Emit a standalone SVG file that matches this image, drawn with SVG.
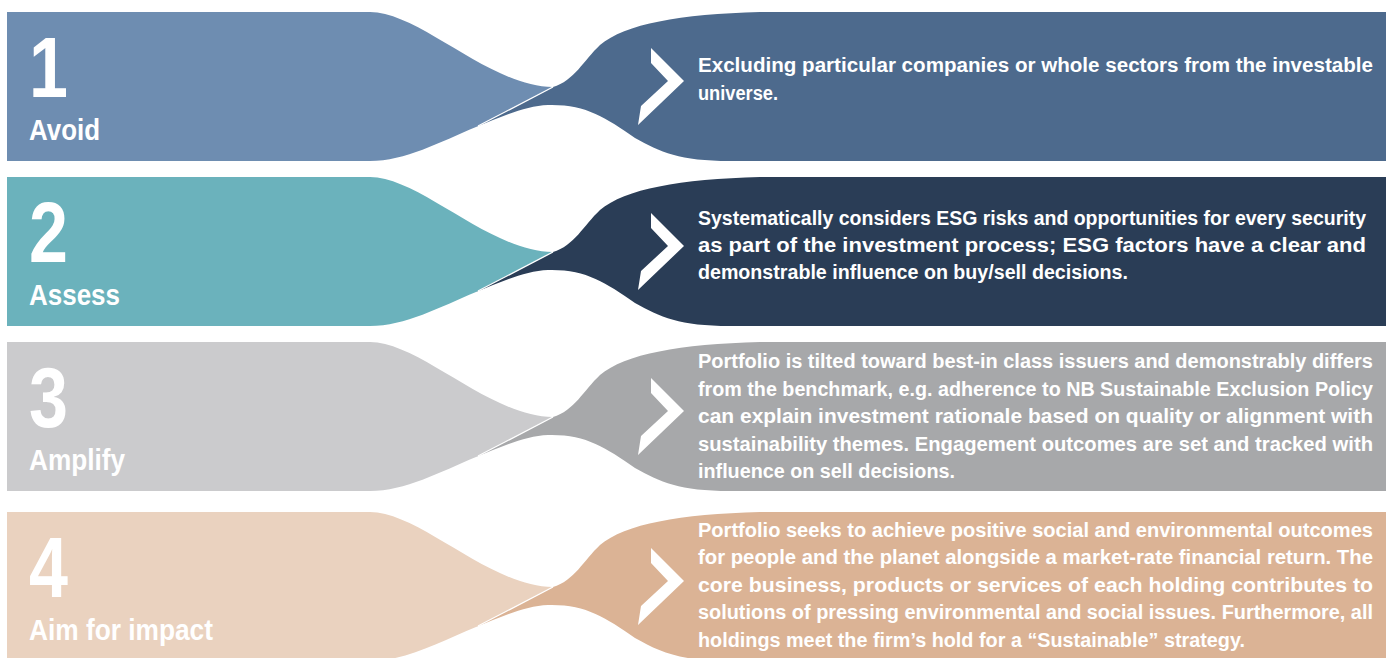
<svg xmlns="http://www.w3.org/2000/svg" xmlns:xlink="http://www.w3.org/1999/xlink" width="1388" height="658" viewBox="0 0 1388 658">
  <style>
    /* condensed look: regular sans stretched vertically inside scaled groups */
    .txt { font-family: "Liberation Sans", Arial, sans-serif; font-weight: bold; fill: #ffffff; }
    .num { font-size: 70px; }
    .lbl { font-size: 23.6px; }
    .desc { font-size: 19.6px; }
    .seam { stroke: #ffffff; stroke-width: 1.3; fill: none; }
    .chev { fill: #ffffff; }
  </style>
  <defs>
    <!-- left tab: flat box that narrows into a pointed tail -->
    <path id="lhs" d="M7,0 H370 C420,0 490,75 553,75 L476,115 C440,130 405,149 370,149 H7 Z"/>
    <!-- right tab: pointed tail that flares into the text panel -->
    <path id="rhs" d="M476,115 L553,75 C574,69 584,48 600,33 C625,12 680,2 760,0 H1386 V149 H730 C680,149 660,140 635,126 C605,105 585,92 548,93 C525,94 500,105 476,115 Z"/>
    <polygon id="chevron" points="651,36 684,69 638,113 641,94 668,69 651,51"/>
    <line id="seamline" x1="478" y1="114" x2="553" y2="75"/>
  </defs>

  <!-- 1: Avoid -->
  <g id="step-avoid" transform="translate(0,12)">
    <use xlink:href="#lhs" href="#lhs" fill="#6E8DB1"/>
    <use xlink:href="#rhs" href="#rhs" fill="#4D6A8D"/>
    <use xlink:href="#seamline" href="#seamline" class="seam"/>
    <use xlink:href="#chevron" href="#chevron" class="chev"/>
    <g class="txt" transform="scale(1 1.23)">
      <text class="num" x="29" y="69.1">1</text>
      <text class="lbl" x="29" y="104.07" textLength="71" lengthAdjust="spacingAndGlyphs">Avoid</text>
    </g>
    <g class="txt" transform="scale(1 1.07)">
      <text class="desc" x="698" y="56.07" textLength="675" lengthAdjust="spacingAndGlyphs">Excluding particular companies or whole sectors from the investable</text>
      <text class="desc" x="698" y="82.24" textLength="80" lengthAdjust="spacingAndGlyphs">universe.</text>
    </g>
  </g>

  <!-- 2: Assess -->
  <g id="step-assess" transform="translate(0,177)">
    <use xlink:href="#lhs" href="#lhs" fill="#6BB2BC"/>
    <use xlink:href="#rhs" href="#rhs" fill="#2A3D56"/>
    <use xlink:href="#seamline" href="#seamline" class="seam"/>
    <use xlink:href="#chevron" href="#chevron" class="chev"/>
    <g class="txt" transform="scale(1 1.23)">
      <text class="num" x="29" y="69.1">2</text>
      <text class="lbl" x="29" y="104.07" textLength="91" lengthAdjust="spacingAndGlyphs">Assess</text>
    </g>
    <g class="txt" transform="scale(1 1.07)">
      <text class="desc" x="698" y="44.86" textLength="668" lengthAdjust="spacingAndGlyphs">Systematically considers ESG risks and opportunities for every security</text>
      <text class="desc" x="698" y="70.09" textLength="668" lengthAdjust="spacingAndGlyphs">as part of the investment process; ESG factors have a clear and</text>
      <text class="desc" x="698" y="95.33" textLength="430" lengthAdjust="spacingAndGlyphs">demonstrable influence on buy/sell decisions.</text>
    </g>
  </g>

  <!-- 3: Amplify -->
  <g id="step-amplify" transform="translate(0,342)">
    <use xlink:href="#lhs" href="#lhs" fill="#CBCBCD"/>
    <use xlink:href="#rhs" href="#rhs" fill="#A7A8AA"/>
    <use xlink:href="#seamline" href="#seamline" class="seam"/>
    <use xlink:href="#chevron" href="#chevron" class="chev"/>
    <g class="txt" transform="scale(1 1.23)">
      <text class="num" x="29" y="69.1">3</text>
      <text class="lbl" x="29" y="104.07" textLength="96" lengthAdjust="spacingAndGlyphs">Amplify</text>
    </g>
    <g class="txt" transform="scale(1 1.07)">
      <text class="desc" x="698" y="24.30" textLength="675" lengthAdjust="spacingAndGlyphs">Portfolio is tilted toward best-in class issuers and demonstrably differs</text>
      <text class="desc" x="698" y="50.47" textLength="675" lengthAdjust="spacingAndGlyphs">from the benchmark, e.g. adherence to NB Sustainable Exclusion Policy</text>
      <text class="desc" x="698" y="75.70" textLength="675" lengthAdjust="spacingAndGlyphs">can explain investment rationale based on quality or alignment with</text>
      <text class="desc" x="698" y="101.87" textLength="675" lengthAdjust="spacingAndGlyphs">sustainability themes. Engagement outcomes are set and tracked with</text>
      <text class="desc" x="698" y="127.10" textLength="257" lengthAdjust="spacingAndGlyphs">influence on sell decisions.</text>
    </g>
  </g>

  <!-- 4: Aim for impact -->
  <g id="step-impact" transform="translate(0,512)">
    <use xlink:href="#lhs" href="#lhs" fill="#EAD2BF"/>
    <use xlink:href="#rhs" href="#rhs" fill="#DBB395"/>
    <use xlink:href="#seamline" href="#seamline" class="seam"/>
    <use xlink:href="#chevron" href="#chevron" class="chev"/>
    <g class="txt" transform="scale(1 1.23)">
      <text class="num" x="29" y="69.1">4</text>
      <text class="lbl" x="29" y="104.07" textLength="184" lengthAdjust="spacingAndGlyphs">Aim for impact</text>
    </g>
    <g class="txt" transform="scale(1 1.07)">
      <text class="desc" x="698" y="23.36" textLength="675" lengthAdjust="spacingAndGlyphs">Portfolio seeks to achieve positive social and environmental outcomes</text>
      <text class="desc" x="698" y="48.60" textLength="675" lengthAdjust="spacingAndGlyphs">for people and the planet alongside a market-rate financial return. The</text>
      <text class="desc" x="698" y="74.77" textLength="675" lengthAdjust="spacingAndGlyphs">core business, products or services of each holding contributes to</text>
      <text class="desc" x="698" y="100.00" textLength="675" lengthAdjust="spacingAndGlyphs">solutions of pressing environmental and social issues. Furthermore, all</text>
      <text class="desc" x="698" y="126.17" textLength="547" lengthAdjust="spacingAndGlyphs">holdings meet the firm’s hold for a “Sustainable” strategy.</text>
    </g>
  </g>
</svg>
